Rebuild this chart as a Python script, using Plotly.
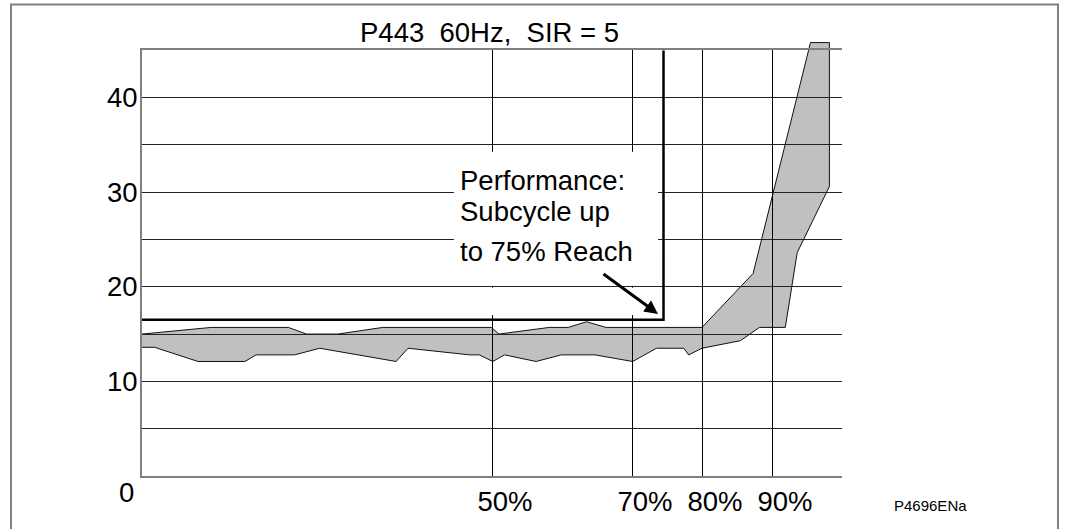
import plotly.graph_objects as go

# ---------------- data ----------------
upper_x = [0, 9.9, 20.9, 23.5, 28.0, 34.4, 49.9, 51.0, 58.2, 60.9, 63.5, 66.3, 80.0, 87.3, 95.5, 98.2]
upper_y = [15.0, 15.7, 15.7, 15.0, 15.0, 15.7, 15.7, 15.0, 15.7, 15.7, 16.3, 15.7, 15.7, 21.4, 45.8, 45.8]

lower_x = [0, 1.8, 8.0, 14.7, 16.3, 21.8, 25.4, 36.3, 38.0, 46.8, 48.2, 50.1, 51.8, 56.3, 59.9,
           64.7, 70.1, 73.5, 77.4, 78.1, 80.0, 85.5, 88.2, 91.9, 93.6, 98.2]
lower_y = [13.6, 13.6, 12.1, 12.1, 12.8, 12.8, 13.5, 12.1, 13.5, 12.8, 12.8, 12.1, 12.8, 12.1, 12.8,
           12.8, 12.1, 13.5, 13.5, 12.8, 13.5, 14.3, 15.7, 15.7, 23.6, 30.6]

reach_x = [0, 74.5, 74.5]
reach_y = [16.5, 16.5, 45]

x_tickvals = [50, 70, 80, 90, 100]
x_ticktext = ["50%", "70%", "80%", "90%", ""]
y_tickvals = [5, 10, 15, 20, 25, 30, 35, 40, 45]
y_ticktext = ["", "10", "", "20", "", "30", "", "40", ""]

title_text = "P443\u00a0 60Hz,\u00a0 SIR = 5"
note_lines = ["Performance:", "Subcycle up", "to 75% Reach"]
figure_id = "P4696ENa"

# ---------------- geometry ----------------
W, H = 1068, 529
L, R, T, B = 142, 226, 30, 45
plot_h = H - T - B
top_px = 50.5
bottom_px = H - B
ppu = (bottom_px - top_px) / 45.0
grid_dom_top = (bottom_px - top_px) / plot_h
band_ymax = plot_h / ppu


def pxx(p):
    return (p - L) / (W - L - R)


def pxy(p):
    return (bottom_px - p) / plot_h


FONT = "Liberation Sans, Arial, sans-serif"
FS = 27.5

poly_x = upper_x + lower_x[::-1]
poly_y = upper_y + lower_y[::-1]

fig = go.Figure()
fig.add_trace(go.Scatter(x=poly_x, y=poly_y, mode="lines", fill="toself",
                         fillcolor="#c0c0c0", line=dict(color="#111111", width=1),
                         xaxis="x", yaxis="y", hoverinfo="skip", showlegend=False))
fig.add_trace(go.Scatter(x=reach_x, y=reach_y, mode="lines",
                         line=dict(color="black", width=2.5),
                         xaxis="x2", yaxis="y2", hoverinfo="skip", showlegend=False))

fig.update_layout(
    width=W, height=H,
    margin=dict(l=L, r=R, t=T, b=B),
    paper_bgcolor="white",
    plot_bgcolor="rgba(0,0,0,0)",
    showlegend=False,
    hovermode=False,
    font=dict(family=FONT, color="black", size=FS),
    xaxis=dict(domain=[0, 1], range=[0, 100], visible=False, fixedrange=True),
    yaxis=dict(domain=[0, 1], range=[0, band_ymax], visible=False, fixedrange=True),
    xaxis2=dict(domain=[0, 1], range=[0, 100], anchor="y2", fixedrange=True,
                tickvals=x_tickvals, ticktext=x_ticktext,
                showgrid=True, gridcolor="black", gridwidth=1,
                showline=True, linecolor="#808080", linewidth=2, mirror=True,
                zeroline=False, ticks="", ticklabelshift=13, ticklabelstandoff=0,
                tickfont=dict(size=FS, family=FONT, color="black")),
    yaxis2=dict(domain=[0, grid_dom_top], range=[0, 45], anchor="x2", fixedrange=True,
                tickvals=y_tickvals, ticktext=y_ticktext,
                showgrid=True, gridcolor="#222222", gridwidth=1,
                showline=True, linecolor="#808080", linewidth=2, mirror=False,
                zeroline=False, ticks="", ticklabelstandoff=-3,
                tickfont=dict(size=FS, family=FONT, color="black")),
)

shapes = [
    # outer frame
    dict(type="rect", xref="paper", yref="paper",
         x0=pxx(11), x1=pxx(1058), y0=pxy(545), y1=pxy(4),
         line=dict(color="#808080", width=2), fillcolor="rgba(0,0,0,0)", layer="below"),
    # white background behind the note (leaves the 20 grid line visible)
    dict(type="rect", xref="paper", yref="paper",
         x0=pxx(454), x1=pxx(658), y0=pxy(290.3), y1=pxy(154),
         line=dict(width=0), fillcolor="white", layer="above"),
    dict(type="rect", xref="paper", yref="paper",
         x0=pxx(454), x1=pxx(658), y0=pxy(320), y1=pxy(292.4),
         line=dict(width=0), fillcolor="white", layer="above"),
]
fig.update_layout(shapes=shapes)

ann = [
    dict(text=title_text, x=pxx(489), y=pxy(33), xref="paper", yref="paper",
         xanchor="center", yanchor="middle", showarrow=False, font=dict(size=FS)),
    dict(text="0", x=pxx(126), y=pxy(501), xref="paper", yref="paper",
         xanchor="center", yanchor="middle", showarrow=False, font=dict(size=FS)),
    dict(text=figure_id, x=pxx(930), y=pxy(514), xref="paper", yref="paper",
         xanchor="center", yanchor="middle", showarrow=False, font=dict(size=15)),
]
note_pos = [183, 215, 255]
for txt, yp in zip(note_lines, note_pos):
    ann.append(dict(text=txt, x=pxx(458), y=pxy(yp), xref="paper", yref="paper",
                    xanchor="left", yanchor="middle", showarrow=False, font=dict(size=FS)))
# arrow
ann.append(dict(text="", x=pxx(658), y=pxy(319), xref="paper", yref="paper",
                ax=602 - 658, ay=278 - 319, axref="pixel", ayref="pixel",
                showarrow=True, arrowhead=2, arrowsize=0.9, arrowwidth=3,
                arrowcolor="black", standoff=0))
fig.update_layout(annotations=ann)

fig.write_html("out.html",
               config={"displayModeBar": False, "staticPlot": True},
               post_script="document.body.style.margin='0';document.body.style.padding='0';"
                           "document.body.style.overflow='hidden';")
